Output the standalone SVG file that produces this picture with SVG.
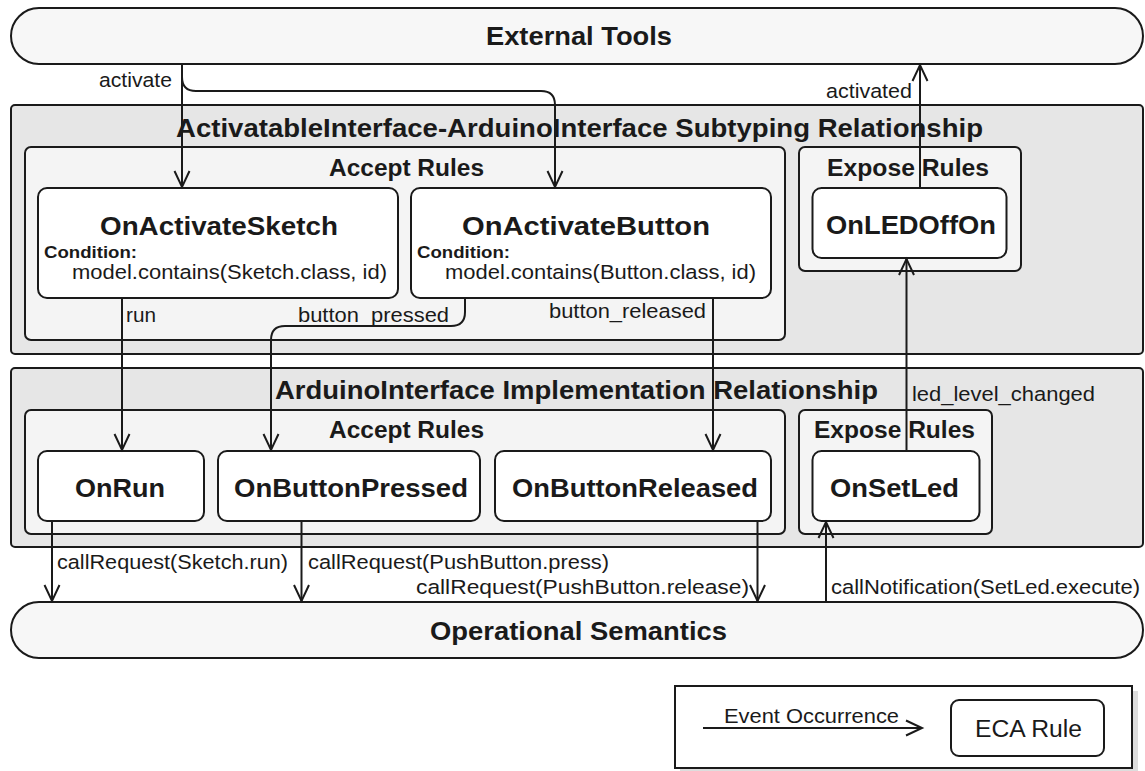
<svg xmlns="http://www.w3.org/2000/svg" width="1145" height="771" viewBox="0 0 1145 771">
<style>
text{font-family:"Liberation Sans",Arial,sans-serif;fill:#1a1a1a}
.b{font-weight:bold;font-size:26px}
.g{font-weight:bold;font-size:23.5px}
.c{font-weight:bold;font-size:17px}
.r{font-size:20.5px}
.pill{fill:#f7f7f7;stroke:#1a1a1a;stroke-width:2}
.outer{fill:#e6e6e6;stroke:#1a1a1a;stroke-width:2}
.grp{fill:#f4f4f4;stroke:#1a1a1a;stroke-width:2}
.node{fill:#ffffff;stroke:#1a1a1a;stroke-width:2}
.edge{fill:none;stroke:#1a1a1a;stroke-width:2}
</style>
<defs>
<marker id="arr" markerWidth="20" markerHeight="20" refX="17" refY="10" orient="auto" markerUnits="userSpaceOnUse" viewBox="0 0 20 20">
<path d="M1,2.5 L17,10 L1,17.5" fill="none" stroke="#1a1a1a" stroke-width="2"/>
</marker>
</defs>

<g id="external-tools">
<rect class="pill" x="11" y="8" width="1132" height="56" rx="28"/>
<text class="b" x="486" y="45" textLength="186" lengthAdjust="spacingAndGlyphs">External Tools</text>
</g>

<g id="subtyping">
<rect class="outer" x="11" y="105" width="1132" height="249" rx="4"/>
<text class="b" x="176" y="137" textLength="807" lengthAdjust="spacingAndGlyphs">ActivatableInterface-ArduinoInterface Subtyping Relationship</text>
</g>
<g id="accept-rules-1">
<rect class="grp" x="25" y="147" width="760" height="193" rx="6"/>
<text class="g" x="329" y="176" textLength="155" lengthAdjust="spacingAndGlyphs">Accept Rules</text>
</g>
<g id="expose-rules-1">
<rect class="grp" x="799" y="147" width="222" height="124" rx="6"/>
<text class="g" x="827" y="176" textLength="162" lengthAdjust="spacingAndGlyphs">Expose Rules</text>
</g>
<g id="OnActivateSketch">
<rect class="node" x="38" y="188" width="360" height="110" rx="9"/>
<text class="b" x="100" y="235" textLength="238" lengthAdjust="spacingAndGlyphs">OnActivateSketch</text>
<text class="c" x="44" y="258" textLength="93" lengthAdjust="spacingAndGlyphs">Condition:</text>
<text class="r" x="72" y="279" textLength="315" lengthAdjust="spacingAndGlyphs">model.contains(Sketch.class, id)</text>
</g>
<g id="OnActivateButton">
<rect class="node" x="411" y="188" width="360" height="110" rx="9"/>
<text class="b" x="462" y="235" textLength="248" lengthAdjust="spacingAndGlyphs">OnActivateButton</text>
<text class="c" x="417" y="258" textLength="93" lengthAdjust="spacingAndGlyphs">Condition:</text>
<text class="r" x="445" y="279" textLength="311" lengthAdjust="spacingAndGlyphs">model.contains(Button.class, id)</text>
</g>
<g id="OnLEDOffOn">
<rect class="node" x="812.5" y="188" width="194" height="70" rx="9"/>
<text class="b" x="826" y="234" textLength="170" lengthAdjust="spacingAndGlyphs">OnLEDOffOn</text>
</g>

<g id="implementation">
<rect class="outer" x="11" y="368" width="1132" height="179" rx="4"/>
<text class="b" x="275" y="399" textLength="603" lengthAdjust="spacingAndGlyphs">ArduinoInterface Implementation Relationship</text>
</g>
<g id="accept-rules-2">
<rect class="grp" x="25" y="410" width="760" height="124" rx="6"/>
<text class="g" x="329" y="438" textLength="155" lengthAdjust="spacingAndGlyphs">Accept Rules</text>
</g>
<g id="expose-rules-2">
<rect class="grp" x="799" y="410" width="193" height="124" rx="6"/>
<text class="g" x="814" y="438" textLength="161" lengthAdjust="spacingAndGlyphs">Expose Rules</text>
</g>
<g id="OnRun">
<rect class="node" x="38" y="451" width="166" height="70" rx="9"/>
<text class="b" x="75" y="497" textLength="90" lengthAdjust="spacingAndGlyphs">OnRun</text>
</g>
<g id="OnButtonPressed">
<rect class="node" x="218" y="451" width="262" height="70" rx="9"/>
<text class="b" x="234" y="497" textLength="234" lengthAdjust="spacingAndGlyphs">OnButtonPressed</text>
</g>
<g id="OnButtonReleased">
<rect class="node" x="495" y="451" width="276" height="70" rx="9"/>
<text class="b" x="512" y="497" textLength="246" lengthAdjust="spacingAndGlyphs">OnButtonReleased</text>
</g>
<g id="OnSetLed">
<rect class="node" x="812.5" y="451" width="167" height="70" rx="9"/>
<text class="b" x="830" y="497" textLength="129" lengthAdjust="spacingAndGlyphs">OnSetLed</text>
</g>

<g id="operational-semantics">
<rect class="pill" x="11" y="602" width="1132" height="56" rx="28"/>
<text class="b" x="430" y="640" textLength="297" lengthAdjust="spacingAndGlyphs">Operational Semantics</text>
</g>

<g id="connectors">
<path class="edge" d="M182,64 V187" marker-end="url(#arr)"/>
<path class="edge" d="M182,64 V77 Q182,91 196,91 H541 Q555,91 555,105 V187" marker-end="url(#arr)"/>
<path class="edge" d="M920,188 V65" marker-end="url(#arr)"/>
<path class="edge" d="M122,298 V450" marker-end="url(#arr)"/>
<path class="edge" d="M465,298 V312 Q465,326 451,326 H285 Q271,326 271,340 V450" marker-end="url(#arr)"/>
<path class="edge" d="M713,298 V450" marker-end="url(#arr)"/>
<path class="edge" d="M906.5,451 V259" marker-end="url(#arr)"/>
<path class="edge" d="M52,521 V601" marker-end="url(#arr)"/>
<path class="edge" d="M301.5,521 V601" marker-end="url(#arr)"/>
<path class="edge" d="M757.5,521 V601" marker-end="url(#arr)"/>
<path class="edge" d="M826,602 V522" marker-end="url(#arr)"/>
<text class="r" x="99" y="87" textLength="73" lengthAdjust="spacingAndGlyphs">activate</text>
<text class="r" x="826" y="98" textLength="86" lengthAdjust="spacingAndGlyphs">activated</text>
<text class="r" x="126" y="322" textLength="30" lengthAdjust="spacingAndGlyphs">run</text>
<text class="r" x="298" y="322" textLength="151" lengthAdjust="spacingAndGlyphs">button_pressed</text>
<text class="r" x="549" y="318" textLength="157" lengthAdjust="spacingAndGlyphs">button_released</text>
<text class="r" x="912" y="401" textLength="183" lengthAdjust="spacingAndGlyphs">led_level_changed</text>
<text class="r" x="57" y="569" textLength="231" lengthAdjust="spacingAndGlyphs">callRequest(Sketch.run)</text>
<text class="r" x="308" y="569" textLength="301" lengthAdjust="spacingAndGlyphs">callRequest(PushButton.press)</text>
<text class="r" x="416" y="594" textLength="333" lengthAdjust="spacingAndGlyphs">callRequest(PushButton.release)</text>
<text class="r" x="831" y="594" textLength="309" lengthAdjust="spacingAndGlyphs">callNotification(SetLed.execute)</text>
</g>

<g id="legend">
<rect x="680" y="691" width="458" height="80" fill="#dddddd"/>
<rect x="675" y="686" width="457" height="82" fill="#ffffff" stroke="#1a1a1a" stroke-width="2"/>
<path class="edge" d="M703,728 H922" marker-end="url(#arr)"/>
<text x="724" y="723" font-size="21" textLength="175" lengthAdjust="spacingAndGlyphs">Event Occurrence</text>
<rect class="node" x="951" y="700" width="153" height="56" rx="8"/>
<text x="975" y="737" font-size="23" textLength="107" lengthAdjust="spacingAndGlyphs">ECA Rule</text>
</g>
</svg>
